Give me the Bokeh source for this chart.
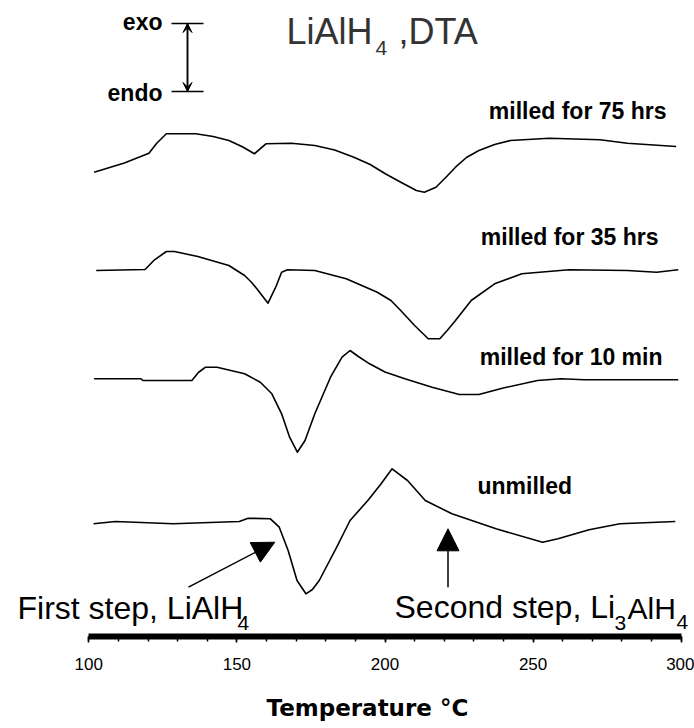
from bokeh.plotting import figure
from bokeh.models import Range1d, FixedTicker, Label, Arrow, NormalHead, VeeHead, TeeHead, Title
from bokeh.embed import file_html
from bokeh.resources import INLINE

# ---------------- data (temperature in deg C, DTA signal in arbitrary units) ----------------
temp_75h = [101.8, 112.0, 120.3, 123.0, 126.2, 136.1, 142.0, 147.3, 152.0, 155.9, 159.8, 168.4,
            176.3, 183.0, 189.5, 195.0, 200.1, 205.5, 210.6, 213.3, 217.2, 220.5, 223.8,
            227.5, 231.7, 237.0, 242.3, 255.5, 272.6, 281.8, 298.3]
dta_75h = [-26.7, -17.5, -7.7, 2.5, 11.7, 11.7, 9.0, 5.0, -1.5, -8.3, 1.7, 2.3,
           0.0, -4.5, -11.7, -19.0, -28.3, -37.0, -45.0, -46.7, -41.7, -32.0, -21.7,
           -12.0, -5.0, 1.0, 5.0, 7.3, 5.7, 2.3, -1.0]

temp_35h = [102.5, 119.0, 122.2, 126.2, 128.9, 136.8, 147.3, 152.6, 155.0, 157.2, 160.5, 163.1,
            165.1, 167.1, 176.3, 186.9, 197.4, 202.0, 205.3, 210.0, 214.6, 218.5, 221.0, 223.8,
            229.1, 237.0, 246.2, 262.1, 281.8, 291.7, 299.0]
dta_35h = [0.0, 1.0, 10.7, 19.0, 19.0, 14.0, 5.0, -5.0, -12.0, -20.0, -32.7, -16.7,
           -1.7, 0.7, 0.0, -8.3, -21.7, -30.0, -40.0, -55.0, -68.3, -68.3, -60.0, -50.0,
           -30.0, -13.3, -3.3, 0.7, 0.0, -1.7, 0.7]

temp_10m = [101.8, 117.6, 118.3, 134.8, 137.0, 139.4, 143.3, 152.6, 157.9, 161.8, 165.1, 167.8,
            170.4, 173.0, 176.3, 181.6, 185.5, 188.2, 191.0, 194.8, 200.0, 206.7, 215.9, 225.1,
            231.7, 239.6, 251.5, 259.4, 267.3, 299.0]
dta_10m = [0.7, 0.7, -1.0, -1.0, 7.0, 12.3, 12.3, 5.7, -2.7, -14.3, -34.3, -57.7,
           -72.7, -61.0, -34.3, 2.3, 22.3, 29.0, 23.0, 15.7, 7.5, 0.7, -7.7, -15.0,
           -15.0, -8.7, -1.0, 0.7, -0.3, -0.3]

temp_un = [101.6, 109.0, 128.5, 150.8, 153.8, 161.3, 164.3, 167.3, 170.3, 173.3, 175.5, 177.8,
           183.7, 188.2, 194.2, 198.5, 202.4, 207.6, 213.6, 222.6, 237.5, 253.2, 258.4,
           268.9, 279.3, 298.0]
dta_un = [-1.3, 1.0, -1.3, 1.0, 4.3, 3.7, -4.7, -28.0, -58.0, -71.3, -67.0, -58.0,
          -24.7, 2.0, 22.0, 38.0, 53.7, 42.0, 22.0, 8.7, -6.3, -19.7, -16.3,
          -7.3, -1.3, 1.0]

series_names = ["milled for 75 hrs", "milled for 35 hrs", "milled for 10 min", "unmilled"]
major_ticks = [100, 150, 200, 250, 300]
minor_ticks = list(range(100, 301, 10))
x_title = "Temperature °C"

# ---------------- layout helpers (page pixels -> data coordinates) ----------------
W, H = 694, 728
AXIS_PX = 636          # y pixel of the temperature axis
X100_PX = 88.3         # x pixel of 100 deg C
PX_PER_DEG = 2.962


def tx(px):
    return 100 + (px - X100_PX) / PX_PER_DEG


def ty(py):
    return AXIS_PX - py


p = figure(width=W, height=H, output_backend="svg", toolbar_location=None,
           x_range=Range1d(tx(0), tx(W)), y_range=Range1d(0, AXIS_PX),
           y_axis_location=None, min_border_left=0, min_border_right=0,
           min_border_top=0, min_border_bottom=H - AXIS_PX)
p.outline_line_color = None
p.grid.visible = False
p.background_fill_color = "white"
p.border_fill_color = "white"

# curves, each stacked on its own baseline
offsets = [ty(145), ty(270), ty(379), ty(522)]
for (t, d), off in zip([(temp_75h, dta_75h), (temp_35h, dta_35h),
                         (temp_10m, dta_10m), (temp_un, dta_un)], offsets):
    p.line(t, [off + v for v in d], line_color="black", line_width=1.6,
           line_join="round")

# x axis
ax = p.xaxis[0]
ax.bounds = (100, 300)
ax.ticker = FixedTicker(ticks=major_ticks, minor_ticks=minor_ticks)
ax.axis_line_width = 6
ax.axis_line_color = "black"
ax.major_tick_in = 0
ax.major_tick_out = 6
ax.minor_tick_in = 0
ax.minor_tick_out = 5
ax.major_tick_line_width = 1.5
ax.minor_tick_line_width = 1.5
ax.major_label_text_font = "Liberation Sans"
ax.major_label_text_font_size = "17px"
ax.major_label_text_color = "black"
ax.major_label_standoff = 15

# axis title, placed under the axis (an empty first line pushes it down to where the
# original has it; offset puts its left edge where the original's starts)
p.add_layout(Title(text="\n" + x_title, align="left", offset=266, standoff=0,
                   vertical_align="bottom", text_line_height=0.75,
                   text_font="DejaVu Sans", text_font_style="bold",
                   text_font_size="23px", text_color="black"), "below")

BASE_SHIFT = 0.38  # Label anchor correction so glyph baselines land where wanted


def lab(text, px, py, size, align="left", bold=False, font="Liberation Sans", color="black"):
    p.add_layout(Label(x=tx(px), y=ty(py - BASE_SHIFT * size), text=text, text_align=align,
                       text_baseline="alphabetic", text_font=font,
                       text_font_size=f"{size}px", text_color=color,
                       text_font_style="bold" if bold else "normal"))


# title
lab("LiAlH", 286, 45, 36, color="#333333")
lab("4", 375, 55, 21, color="#333333")
lab(",DTA", 398, 45, 36, color="#333333")

# series labels
lab(series_names[0], 666, 119, 23, align="right", bold=True)
lab(series_names[1], 658, 245, 23, align="right", bold=True)
lab(series_names[2], 662, 365, 23, align="right", bold=True)
lab(series_names[3], 477, 494, 23, align="left", bold=True)

# exo / endo indicator
lab("exo", 162, 30, 23, align="right", bold=True)
lab("endo", 162, 101.7, 23, align="right", bold=True)
p.add_layout(Arrow(x_start=tx(187), y_start=ty(23), x_end=tx(187), y_end=ty(91),
                   start=TeeHead(size=32, line_width=1.5), end=TeeHead(size=32, line_width=1.5),
                   line_width=1.5))
p.add_layout(Arrow(x_start=tx(187), y_start=ty(23), x_end=tx(187), y_end=ty(91),
                   start=VeeHead(size=9, fill_color="black", line_width=1),
                   end=VeeHead(size=9, fill_color="black", line_width=1),
                   line_width=1.5))

# step annotations
lab("First step, LiAlH", 17, 619.3, 32)
lab("4", 237, 630, 21)
lab("Second step, Li", 394, 619, 32)
lab("3", 614, 630, 21)
lab("AlH", 627, 619, 30)
lab("4", 676, 629, 21)

p.add_layout(Arrow(x_start=tx(188), y_start=ty(586.7), x_end=tx(274.3), y_end=ty(541.7),
                   end=NormalHead(size=22, fill_color="black", line_color="black"),
                   line_width=1.5))
p.add_layout(Arrow(x_start=tx(447.5), y_start=ty(586.7), x_end=tx(447.5), y_end=ty(528.3),
                   end=NormalHead(size=22, fill_color="black", line_color="black"),
                   line_width=1.5))

open("out.html", "w").write(file_html(p, INLINE))
